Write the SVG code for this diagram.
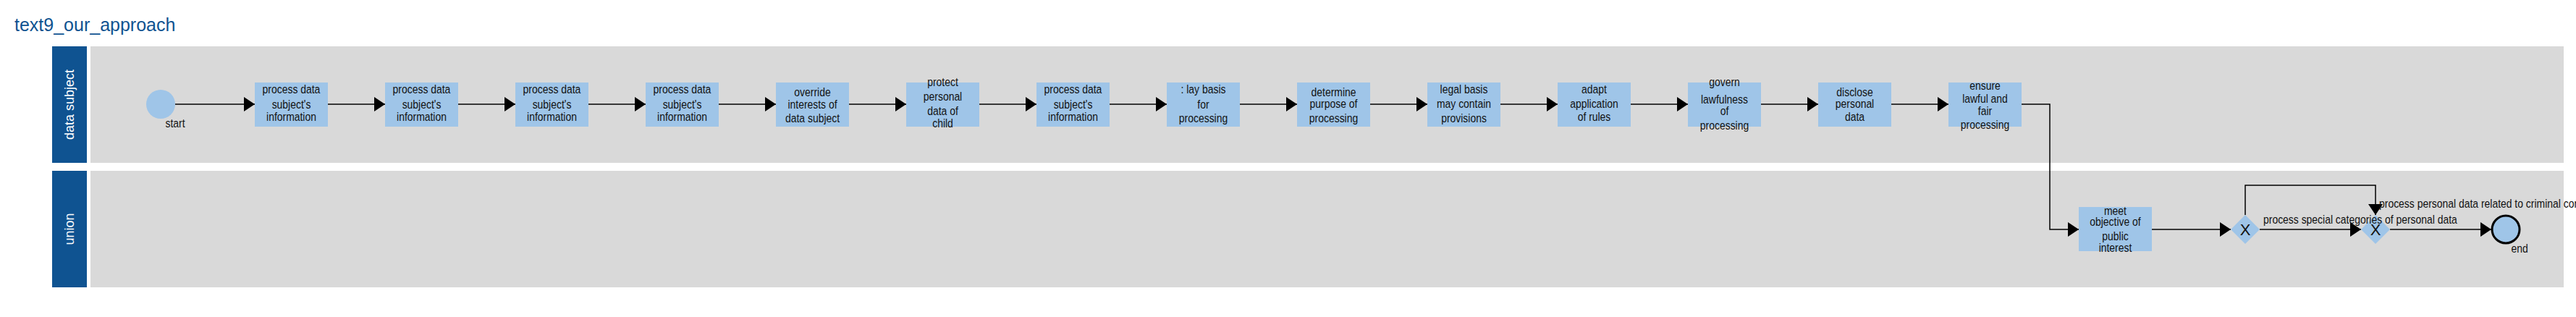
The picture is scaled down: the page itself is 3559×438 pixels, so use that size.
<svg xmlns="http://www.w3.org/2000/svg" width="3559" height="438" viewBox="0 0 3559 438">
<style>
.hdr{fill:#0f5391}
.lane{fill:#d9d9d9}
.task{fill:#9fc5e8}
.t{font-family:"Liberation Sans",Arial,sans-serif;font-size:17px;fill:#111;text-anchor:middle}
.lbl{font-family:"Liberation Sans",Arial,sans-serif;font-size:17px;fill:#111}
.lt{font-family:"Liberation Sans",Arial,sans-serif;font-size:18px;fill:#fff;text-anchor:middle}
.c{fill:none;stroke:#000;stroke-width:1.5;marker-end:url(#ah)}
.gx{font-family:"Liberation Sans",Arial,sans-serif;font-size:22px;fill:#111;text-anchor:middle}
</style>
<defs>
<marker id="ah" markerUnits="userSpaceOnUse" markerWidth="15" markerHeight="20" refX="15" refY="10" orient="auto">
<path d="M0,0 L15,10 L0,20 z" fill="#000"/>
</marker>
</defs>
<rect width="3559" height="438" fill="#fff"/>
<text x="20" y="43" font-family="'Liberation Sans',Arial,sans-serif" font-size="25" fill="#0f5391">text9_our_approach</text>
<g id="lane-data-subject">
<rect class="hdr" x="72" y="64" width="48" height="161"/>
<rect class="lane" x="125" y="64" width="3417" height="161"/>
<text class="lt" transform="translate(102,144.5) rotate(-90)">data subject</text>
</g>
<g id="lane-union">
<rect class="hdr" x="72" y="236" width="48" height="161"/>
<rect class="lane" x="125" y="236" width="3417" height="161"/>
<text class="lt" transform="translate(102,316.5) rotate(-90)">union</text>
</g>
<g id="start">
<circle cx="222" cy="144" r="20" fill="#9fc5e8"/>
<text class="t" transform="translate(242 176) scale(0.82 1)">start</text>
</g>
<g id="task1"><rect class="task" x="352" y="114" width="101" height="61"/><text class="t" transform="translate(402.5 0) scale(0.82 1)"><tspan x="0" y="129">process data</tspan><tspan x="0" y="150">subject's</tspan><tspan x="0" y="167">information</tspan></text></g>
<g id="task2"><rect class="task" x="532" y="114" width="101" height="61"/><text class="t" transform="translate(582.5 0) scale(0.82 1)"><tspan x="0" y="129">process data</tspan><tspan x="0" y="150">subject's</tspan><tspan x="0" y="167">information</tspan></text></g>
<g id="task3"><rect class="task" x="712" y="114" width="101" height="61"/><text class="t" transform="translate(762.5 0) scale(0.82 1)"><tspan x="0" y="129">process data</tspan><tspan x="0" y="150">subject's</tspan><tspan x="0" y="167">information</tspan></text></g>
<g id="task4"><rect class="task" x="892" y="114" width="101" height="61"/><text class="t" transform="translate(942.5 0) scale(0.82 1)"><tspan x="0" y="129">process data</tspan><tspan x="0" y="150">subject's</tspan><tspan x="0" y="167">information</tspan></text></g>
<g id="task5"><rect class="task" x="1072" y="114" width="101" height="61"/><text class="t" transform="translate(1122.5 0) scale(0.82 1)"><tspan x="0" y="133">override</tspan><tspan x="0" y="150">interests of</tspan><tspan x="0" y="169">data subject</tspan></text></g>
<g id="task6"><rect class="task" x="1252" y="114" width="101" height="61"/><text class="t" transform="translate(1302.5 0) scale(0.82 1)"><tspan x="0" y="119">protect</tspan><tspan x="0" y="139">personal</tspan><tspan x="0" y="159">data of</tspan><tspan x="0" y="176">child</tspan></text></g>
<g id="task7"><rect class="task" x="1432" y="114" width="101" height="61"/><text class="t" transform="translate(1482.5 0) scale(0.82 1)"><tspan x="0" y="129">process data</tspan><tspan x="0" y="150">subject's</tspan><tspan x="0" y="167">information</tspan></text></g>
<g id="task8"><rect class="task" x="1612" y="114" width="101" height="61"/><text class="t" transform="translate(1662.5 0) scale(0.82 1)"><tspan x="0" y="129">: lay basis</tspan><tspan x="0" y="150">for</tspan><tspan x="0" y="169">processing</tspan></text></g>
<g id="task9"><rect class="task" x="1792" y="114" width="101" height="61"/><text class="t" transform="translate(1842.5 0) scale(0.82 1)"><tspan x="0" y="133">determine</tspan><tspan x="0" y="149">purpose of</tspan><tspan x="0" y="169">processing</tspan></text></g>
<g id="task10"><rect class="task" x="1972" y="114" width="101" height="61"/><text class="t" transform="translate(2022.5 0) scale(0.82 1)"><tspan x="0" y="129">legal basis</tspan><tspan x="0" y="149">may contain</tspan><tspan x="0" y="169">provisions</tspan></text></g>
<g id="task11"><rect class="task" x="2152" y="114" width="101" height="61"/><text class="t" transform="translate(2202.5 0) scale(0.82 1)"><tspan x="0" y="129">adapt</tspan><tspan x="0" y="149">application</tspan><tspan x="0" y="167">of rules</tspan></text></g>
<g id="task12"><rect class="task" x="2332" y="114" width="101" height="61"/><text class="t" transform="translate(2382.5 0) scale(0.82 1)"><tspan x="0" y="119">govern</tspan><tspan x="0" y="143">lawfulness</tspan><tspan x="0" y="159">of</tspan><tspan x="0" y="179">processing</tspan></text></g>
<g id="task13"><rect class="task" x="2512" y="114" width="101" height="61"/><text class="t" transform="translate(2562.5 0) scale(0.82 1)"><tspan x="0" y="133">disclose</tspan><tspan x="0" y="149">personal</tspan><tspan x="0" y="167">data</tspan></text></g>
<g id="task14"><rect class="task" x="2692" y="114" width="101" height="61"/><text class="t" transform="translate(2742.5 0) scale(0.82 1)"><tspan x="0" y="124">ensure</tspan><tspan x="0" y="142">lawful and</tspan><tspan x="0" y="159">fair</tspan><tspan x="0" y="178">processing</tspan></text></g>
<g id="task15"><rect class="task" x="2872" y="286" width="101" height="61"/><text class="t" transform="translate(2922.5 0) scale(0.82 1)"><tspan x="0" y="297">meet</tspan><tspan x="0" y="312">objective of</tspan><tspan x="0" y="332">public</tspan><tspan x="0" y="348">interest</tspan></text></g>
<g id="gateway1"><polygon points="3102,297 3122,317 3102,337 3082,317" fill="#9fc5e8"/><text class="gx" x="3102" y="325">X</text></g>
<g id="gateway2"><polygon points="3282,297 3302,317 3282,337 3262,317" fill="#9fc5e8"/><text class="gx" x="3282" y="325">X</text></g>
<g id="end">
<circle cx="3462" cy="317" r="19" fill="#9fc5e8" stroke="#000" stroke-width="3"/>
<text class="t" transform="translate(3481 349) scale(0.82 1)">end</text>
</g>
<g id="connectors">
<line class="c" x1="242" y1="144" x2="352" y2="144"/>
<line class="c" x1="453" y1="144" x2="532" y2="144"/>
<line class="c" x1="633" y1="144" x2="712" y2="144"/>
<line class="c" x1="813" y1="144" x2="892" y2="144"/>
<line class="c" x1="993" y1="144" x2="1072" y2="144"/>
<line class="c" x1="1173" y1="144" x2="1252" y2="144"/>
<line class="c" x1="1353" y1="144" x2="1432" y2="144"/>
<line class="c" x1="1533" y1="144" x2="1612" y2="144"/>
<line class="c" x1="1713" y1="144" x2="1792" y2="144"/>
<line class="c" x1="1893" y1="144" x2="1972" y2="144"/>
<line class="c" x1="2073" y1="144" x2="2152" y2="144"/>
<line class="c" x1="2253" y1="144" x2="2332" y2="144"/>
<line class="c" x1="2433" y1="144" x2="2512" y2="144"/>
<line class="c" x1="2613" y1="144" x2="2692" y2="144"/>
<polyline class="c" points="2793,144 2832,144 2832,317 2872,317"/>
<line class="c" x1="2973" y1="317" x2="3082" y2="317"/>
<line class="c" x1="3122" y1="317" x2="3262" y2="317"/>
<polyline class="c" points="3102,297 3102,256 3282,256 3282,297"/>
<line class="c" x1="3302" y1="317" x2="3442" y2="317"/>
<text class="lbl" transform="translate(3127 309) scale(0.82 1)">process special categories of personal data</text>
<text class="lbl" transform="translate(3287 287) scale(0.82 1)">process personal data related to criminal convictions and offences</text>
</g>
</svg>
